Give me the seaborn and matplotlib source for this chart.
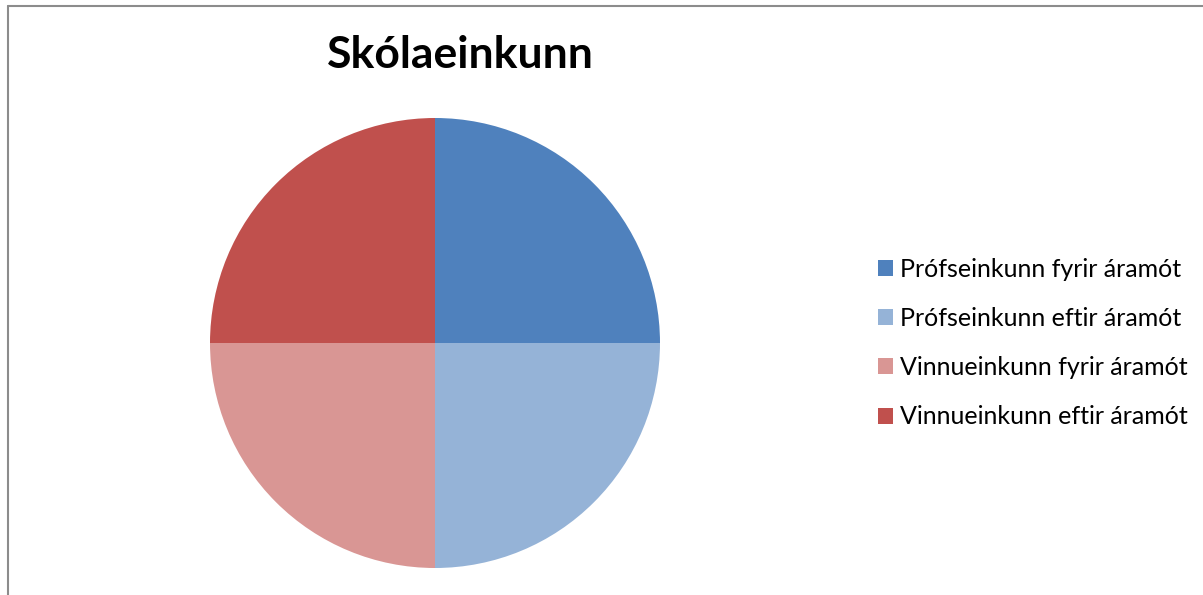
import matplotlib
matplotlib.use("Agg")
import matplotlib.pyplot as plt
from matplotlib.patches import Patch
from matplotlib.lines import Line2D
import seaborn as sns

labels = [
    "Prófseinkunn fyrir áramót",
    "Prófseinkunn eftir áramót",
    "Vinnueinkunn fyrir áramót",
    "Vinnueinkunn eftir áramót",
]
values = [1, 1, 1, 1]
colors = ["#4F81BD", "#95B3D7", "#D99694", "#C0504D"]
title = "Skólaeinkunn"

sns.set_theme(style="white")
plt.rcParams["font.family"] = ["Lato", "DejaVu Sans"]

W, H = 1203, 595
fig = plt.figure(figsize=(W / 100, H / 100), dpi=100)
fig.patch.set_facecolor("white")

# pie axes: centre (435, 343) px, radius 225 px
cx, cy, r = 435, 343, 225
ax = fig.add_axes([(cx - r) / W, (H - cy - r) / H, 2 * r / W, 2 * r / H])
ax.pie(values, colors=colors, startangle=90, counterclock=False, radius=1,
       wedgeprops=dict(linewidth=0))
ax.set_xlim(-1, 1)
ax.set_ylim(-1, 1)
ax.set_aspect("equal")
ax.axis("off")

fig.text(460 / W, 1 - 55 / H, title, ha="center", va="center",
         fontsize=32, fontweight="bold", color="black")

handles = [Patch(facecolor=c, edgecolor="none") for c in colors]
fig.legend(handles, labels, loc="center left",
           bbox_to_anchor=(868 / W, 1 - 343 / H), frameon=False,
           fontsize=18, labelcolor="black", handlelength=0.6, handleheight=0.6,
           handletextpad=0.3, labelspacing=1.05, borderaxespad=0)

# chart-area border (left and top edges visible)
border = "#8C8C8C"
fig.add_artist(Line2D([8 / W, 8 / W], [0, 1 - 6 / H], color=border, lw=1.5,
                      transform=fig.transFigure))
fig.add_artist(Line2D([8 / W, 1], [1 - 6 / H, 1 - 6 / H], color=border, lw=1.5,
                      transform=fig.transFigure))

fig.savefig("out.png", dpi=100, facecolor="white")
